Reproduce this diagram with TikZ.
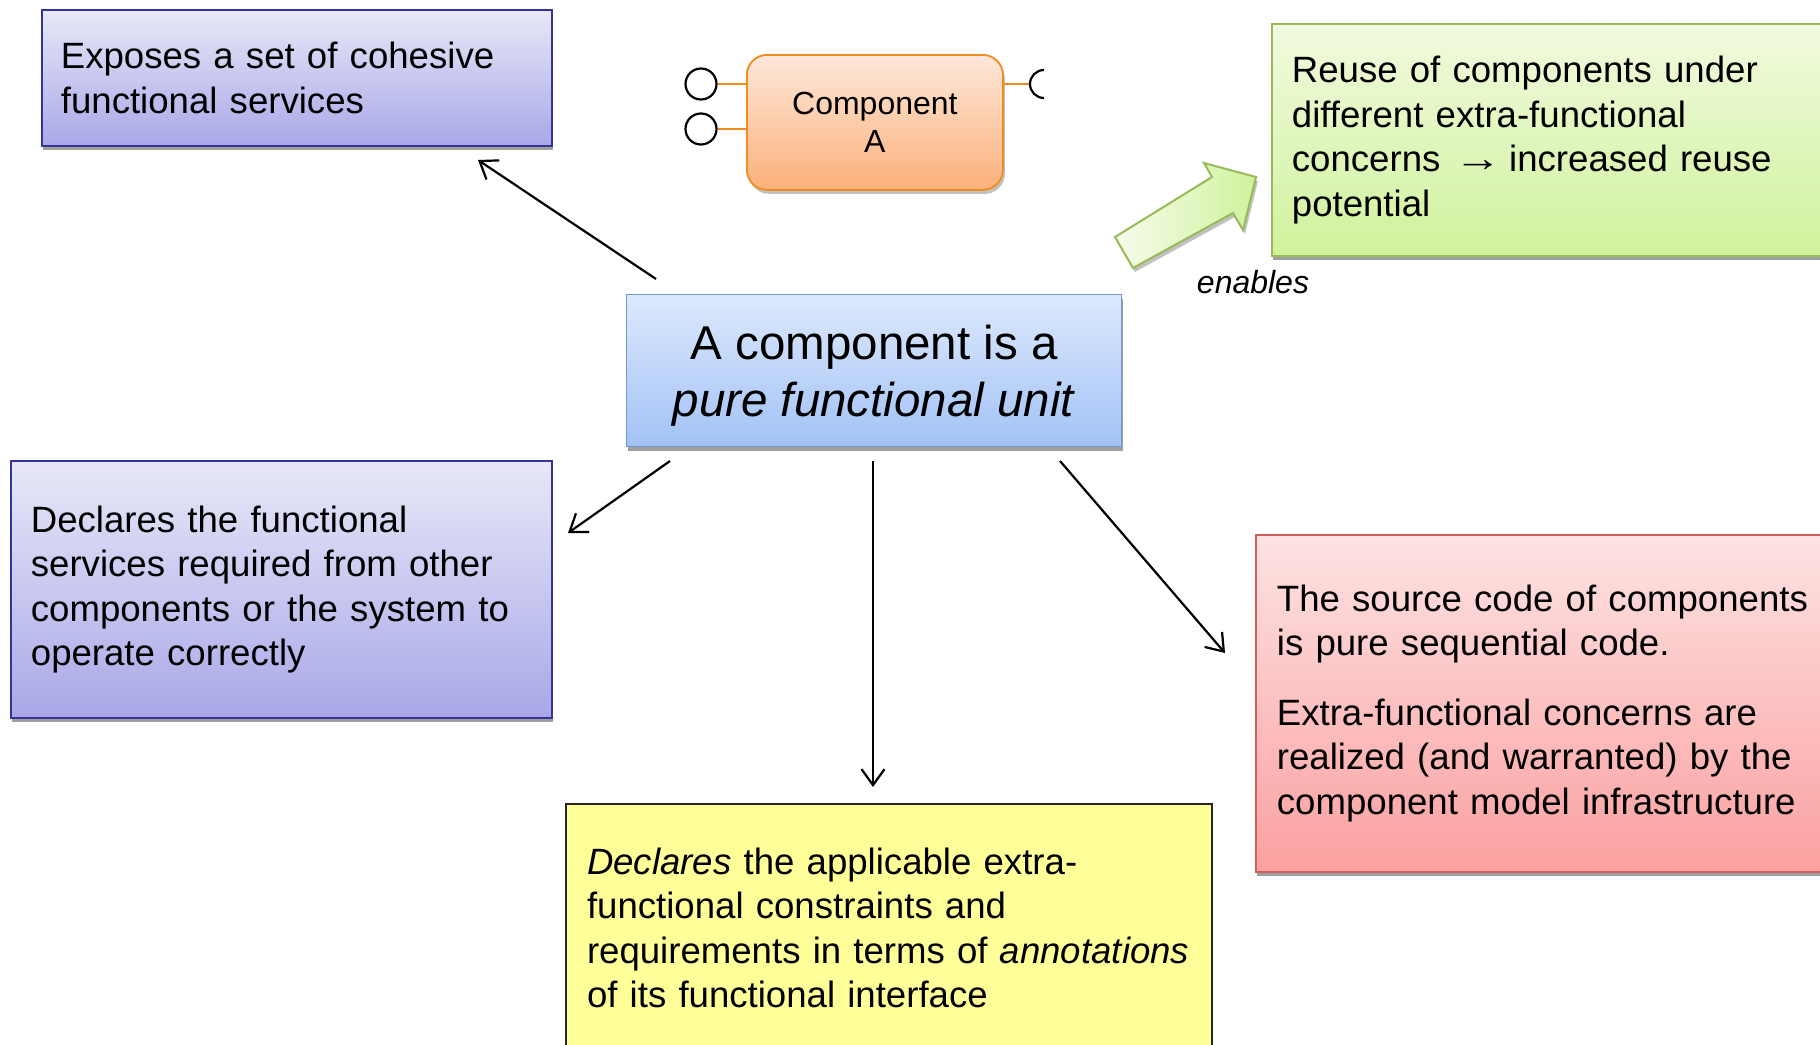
\documentclass[tikz,border=0pt]{standalone}
\usepackage{fontspec}
\setmainfont{Liberation Sans}
\usetikzlibrary{arrows.meta,shadows,calc}

\definecolor{lavtop}{HTML}{E8E8F8}
\definecolor{lavbot}{HTML}{A8A8E8}
\definecolor{lavline}{HTML}{33339A}
\definecolor{bluetop}{HTML}{DDE9FC}
\definecolor{bluebot}{HTML}{A2C2F6}
\definecolor{blueline}{HTML}{6E98D6}
\definecolor{greentop}{HTML}{F1FADF}
\definecolor{greenbot}{HTML}{D0F29C}
\definecolor{greenline}{HTML}{98BA5A}
\definecolor{redtop}{HTML}{FDE3E3}
\definecolor{redbot}{HTML}{FBA0A0}
\definecolor{redline}{HTML}{D05C5C}
\definecolor{yellowfill}{HTML}{FFFF99}
\definecolor{orgtop}{HTML}{FDE8DA}
\definecolor{orgbot}{HTML}{FBB07A}
\definecolor{orgline}{HTML}{F08C1E}

\begin{document}
\begin{tikzpicture}[x=1pt,y=-1pt,
  every node/.style={font=\fontsize{36.6}{44.5}\selectfont},
  boxshadow/.style={drop shadow={shadow xshift=1.5pt,shadow yshift=-4.5pt,fill=black!50,opacity=0.75}},
  box/.style={rectangle,draw,line width=1.8pt,inner sep=0pt,align=left,anchor=north west,boxshadow},
  lav/.style={box,draw=lavline,top color=lavtop,bottom color=lavbot},
  core/.style={box,draw=blueline,line width=1.4pt,top color=bluetop,bottom color=bluebot},
  coretext/.style={align=center,font=\fontsize{47.5}{57}\selectfont},
  gbox/.style={box,draw=greenline,top color=greentop,bottom color=greenbot},
  rbox/.style={box,draw=redline,top color=redtop,bottom color=redbot},
  ybox/.style={rectangle,draw=black!85,line width=2pt,inner sep=0pt,align=left,anchor=north west,fill=yellowfill},
  comp/.style={rectangle,rounded corners=20pt,draw=orgline,line width=1.8pt,top color=orgtop,bottom color=orgbot,
    align=center,anchor=north west,font=\fontsize{32}{38}\selectfont,
    drop shadow={shadow xshift=2pt,shadow yshift=-4pt,fill=black!40,opacity=0.6}},
  port/.style={circle,draw=black,line width=2.2pt,fill=white,minimum size=31pt,inner sep=0pt},
  wire/.style={draw=orgline,line width=1.8pt},
  conn/.style={draw=black,line width=2.2pt,-{Straight Barb[length=16pt,width=23pt,line width=2.2pt]}},
  bigarrow/.style={draw=greenline,line width=2pt,left color=greentop!60!white,right color=greenbot,
    drop shadow={shadow xshift=2pt,shadow yshift=-4pt,fill=black!40,opacity=0.6}}
]
\useasboundingbox (0,0) rectangle (1820,1044);
\clip (0,0) rectangle (1820,1044);
\fill[white] (0,0) rectangle (1820,1044);

% text boxes
\node[lav,minimum width=510pt,minimum height=136pt,text width=472pt] (exposes) at (41,9)
  {Exposes a set of cohesive\\functional services};
\node[lav,minimum width=541pt,minimum height=257pt,text width=501pt] (required) at (10,460)
  {Declares the functional\\services required from other\\components or the system to\\operate correctly};
\node[core,minimum width=495pt,minimum height=152pt] (core) at (626,294) {};
\node[coretext] (corelabel) at ($(core.center)+(0,5)$) {A component is a\\\textit{pure functional unit}};
\node[gbox,minimum width=590pt,minimum height=232pt,text width=550pt] (reuse) at (1271,23)
  {Reuse of components under\\different extra-functional\\concerns~\hspace{2pt}\scalebox{1.3}[1.05]{→}\hspace{7pt}increased reuse\\potential};
\node[rbox,minimum width=600pt,minimum height=337pt,text width=558pt] (source) at (1255,534)
  {The source code of components\\is pure sequential code.\\[25pt]Extra-functional concerns are\\realized (and warranted) by the\\component model infrastructure};
\node[ybox,minimum width=646pt,minimum height=248pt,text width=604pt] (annot) at (565,803)
  {\textit{Declares} the applicable extra-\\functional constraints and\\\mbox{requirements in terms of \textit{annotations}}\\of its functional interface};

% component symbol with its ports
\node[comp,minimum width=256pt,minimum height=135pt] (compA) at (746,54) {Component\\A};
\node[port] (p1) at (701,84) {};
\node[port] (p2) at (701,129) {};
\draw[wire] (p1.east) -- (compA.west |- p1);
\draw[wire] (p2.east) -- (compA.west |- p2);
\coordinate (sock) at (1030,84);
\draw[wire] (compA.east |- sock) -- (sock);
\draw[black,line width=2.2pt] ($(sock)+(14,-14)$) arc[start angle=-90,end angle=-270,radius=14];

% connectors from the central statement
\coordinate (a1s) at (656,279);
\coordinate (a1e) at (478,160);
\coordinate (a2s) at (670,461);
\coordinate (a2e) at (568,533);
\coordinate (a3s) at (873,461);
\coordinate (a3e) at (873,787);
\coordinate (a4s) at (1060,461);
\coordinate (a4e) at (1225,653);
\draw[conn] (a1s) -- (a1e);
\draw[conn] (a2s) -- (a2e);
\draw[conn] (a3s) -- (a3e);
\draw[conn] (a4s) -- (a4e);

% block arrow towards the reuse box
\path[bigarrow] (1115,237) -- (1212,177) -- (1204,163) -- (1256,177) -- (1243,230) -- (1233,213) -- (1133,268) -- cycle;
\node[font=\fontsize{32}{38}\selectfont\itshape] (enables) at (1253,282) {enables};
\end{tikzpicture}
\end{document}
